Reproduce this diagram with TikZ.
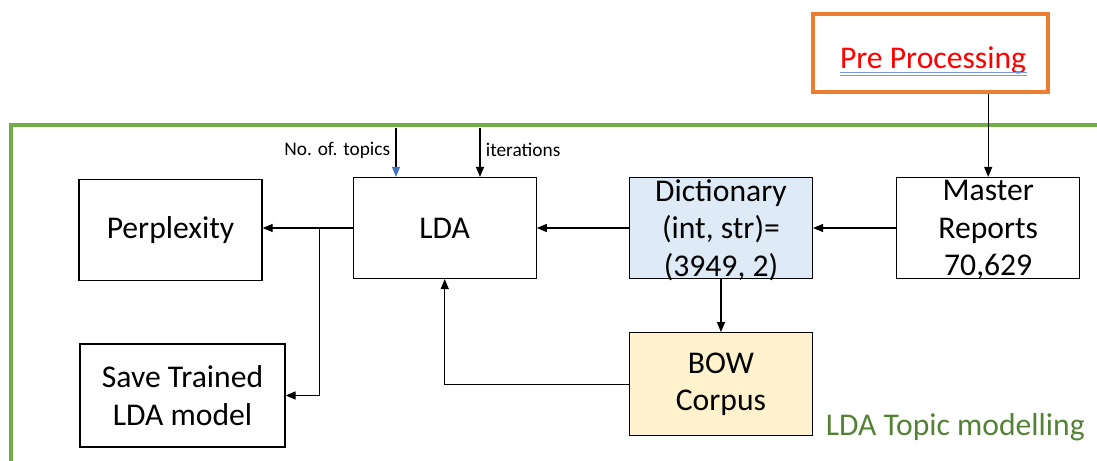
\documentclass[tikz,border=0pt]{standalone}
\usepackage{fontspec}
\setmainfont{Carlito}
\usepackage{xcolor}
\usetikzlibrary{arrows.meta, positioning, calc}
\definecolor{cFrame}{RGB}{112,173,71}
\definecolor{cFrameTxt}{RGB}{84,130,53}
\definecolor{cOrange}{RGB}{237,125,49}
\definecolor{cDict}{RGB}{222,235,247}
\definecolor{cBow}{RGB}{255,242,204}
\definecolor{cTip}{RGB}{68,114,196}
\definecolor{cUline}{RGB}{120,150,230}
\tikzset{
	box/.style      ={rectangle, draw=black, line width=0.7pt, minimum width=3.66cm, minimum height=2.02cm, align=center, inner ysep=0pt, font=\fontsize{18}{21.5}\selectfont},
	flow/.style     ={-{Triangle[length=2mm, width=1.6mm]}, line width=0.7pt},
	param/.style    ={font=\fontsize{11}{13}\selectfont, inner sep=3pt},
	% outer frames
	frame/.style    ={draw=cFrame, line width=2pt},
	prebox/.style   ={rectangle, draw=cOrange, line width=2pt, minimum width=4.7cm, minimum height=1.56cm},
}

\begin{document}
\begin{tikzpicture}
	\useasboundingbox (0,0) rectangle (21.94,-9.22);
	% frames
	\node[prebox] (pre) at (18.61,-1.06) {};
	\node[text=red, font=\fontsize{18}{22}\selectfont, inner sep=0pt] (pretxt) at (18.66,-1.21) {Pre Processing};
	\draw[cUline, line width=0.5pt] ([xshift=-1.87cm, yshift=-0.07cm]pretxt.base) -- ([xshift=1.87cm, yshift=-0.07cm]pretxt.base);
	\draw[cUline, line width=0.5pt] ([xshift=-1.87cm, yshift=-0.13cm]pretxt.base) -- ([xshift=1.87cm, yshift=-0.13cm]pretxt.base);
	\draw[frame] (0.22,-9.4) |- (22.1,-2.5);
	\node[text=cFrameTxt, font=\fontsize{18}{22}\selectfont, anchor=east] (frametxt) at (21.82,-8.54) {LDA Topic modelling};
	% blocks
	\node[box] (perp) at (3.41,-4.60) {Perplexity};
	\node[box, right=1.8cm of perp.east, anchor=west, yshift=0.04cm] (lda) {LDA};
	\node[box, right=1.84cm of lda, fill=cDict, text depth=0pt] (dict) {Dictionary\\(int, str)=\\(3949, 2)};
	\node[box, right=1.66cm of dict, text depth=0pt] (master) {Master\\Reports\\70,629};
	\node[box, below=1.06cm of dict, fill=cBow, minimum height=2.06cm] (bow) {BOW\\Corpus};
	\node[box, minimum width=4.1cm, minimum height=2.06cm] (save) at (3.65,-7.91) {Save Trained\\LDA model};
	% inputs to LDA
	\coordinate (ntop) at (7.92,-2.56);
	\coordinate (iter) at (9.60,-2.56);
	\coordinate (split) at ($(lda.west)!0.367!(lda.west -| perp.east)$);
	% connectors
	\draw[flow] (pre.south -| master.north) -- (master.north);
	\draw[flow] (master) -- (dict);
	\draw[flow] (dict) -- (lda);
	\draw[flow] (lda.west) -- (lda.west -| perp.east);
	\draw[flow] (split) |- (save.east);
	\draw[flow] (dict) -- (bow);
	\draw[flow] (bow.west) -| (lda.south);
	\draw[-{Triangle[length=2mm, width=1.6mm, color=cTip]}, line width=0.7pt] (ntop) -- node[param, left, pos=0.45] {No. of. topics} (ntop |- lda.north);
	\draw[flow] (iter) -- node[param, right, pos=0.45] {iterations} (iter |- lda.north);
\end{tikzpicture}
\end{document}
